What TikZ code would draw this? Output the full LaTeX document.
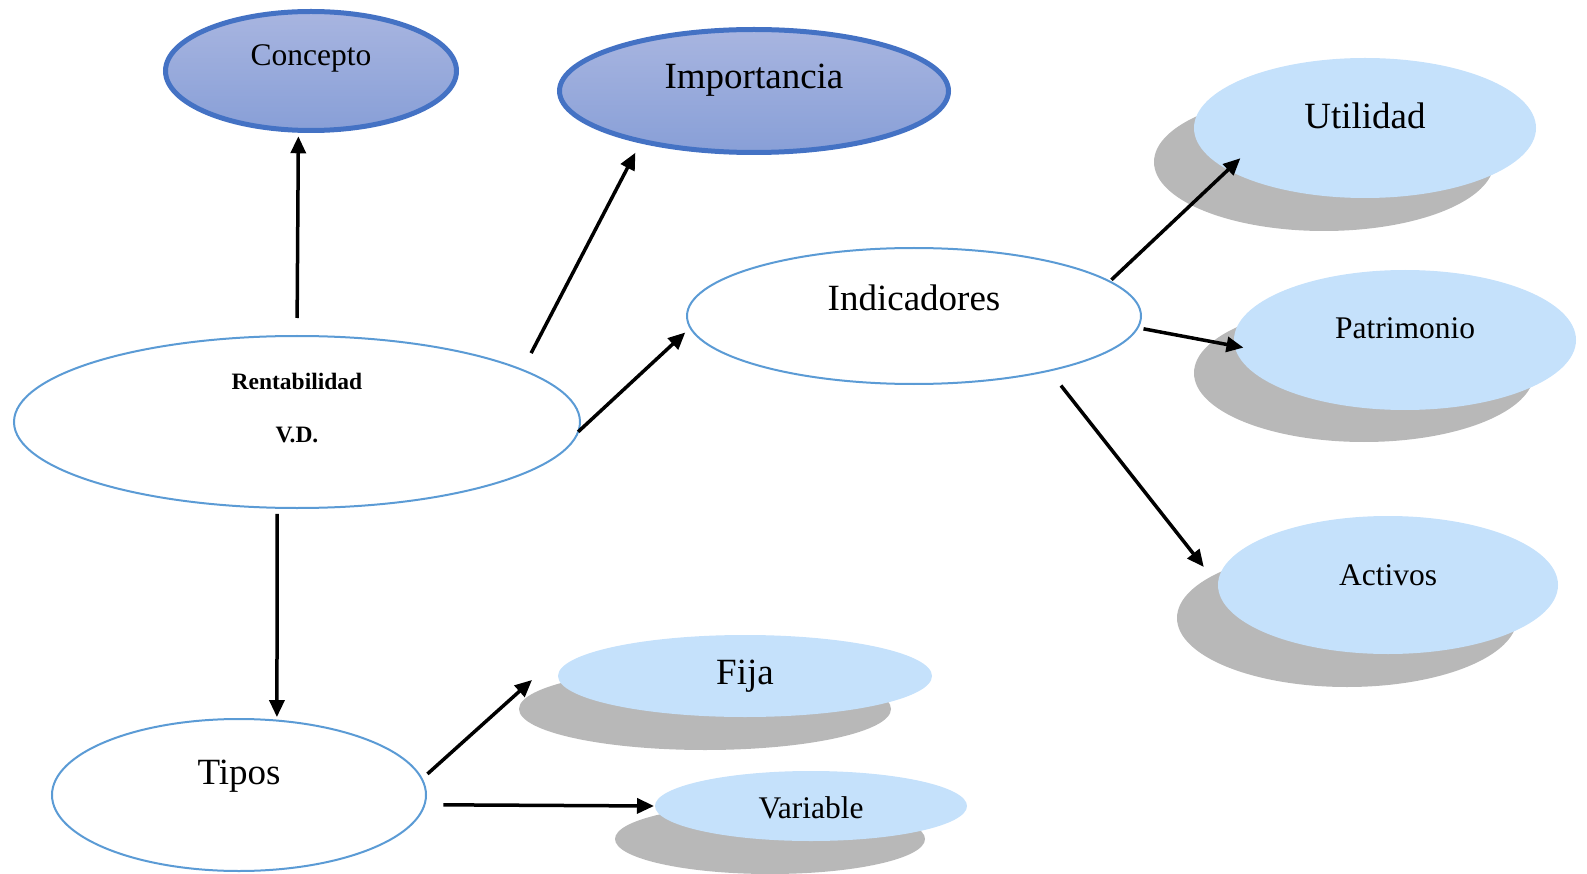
\documentclass[tikz,border=0pt]{standalone}
\usepackage{fontspec}
\setmainfont{Liberation Serif}
\usetikzlibrary{arrows.meta,shapes.geometric}
\definecolor{edgeblue}{RGB}{68,114,196}
\definecolor{lineblue}{RGB}{91,155,213}
\definecolor{gradtop}{RGB}{168,181,224}
\definecolor{gradbot}{RGB}{136,159,215}
\definecolor{paleblue}{RGB}{197,225,251}
\definecolor{shadowgray}{RGB}{184,184,184}
\begin{document}
\begin{tikzpicture}[x=1pt,y=-1pt,
  basic/.style={ellipse, inner sep=0pt, outer sep=0pt},
  darkell/.style={basic, draw=edgeblue, line width=5pt, top color=gradtop, bottom color=gradbot},
  whiteell/.style={basic, draw=lineblue, line width=2pt, fill=white},
  paleell/.style={basic, fill=paleblue},
  shadowell/.style={basic, fill=shadowgray},
  big/.style={anchor=base, font=\fontsize{37}{44}\selectfont},
  mid/.style={anchor=base, font=\fontsize{31.5}{38}\selectfont},
  small/.style={anchor=base, font=\fontsize{23.5}{28}\selectfont\bfseries},
  arr/.style={line width=3.5pt, -{Triangle[length=17pt,width=15pt]}}]
\useasboundingbox (0,0) rectangle (1587,874);

% drop shadows of the pale ellipses
\node[shadowell, minimum width=340pt, minimum height=138pt] (util-s) at (1324,162) {};
\node[shadowell, minimum width=340pt, minimum height=138pt] (patr-s) at (1364,373) {};
\node[shadowell, minimum width=340pt, minimum height=138pt] (acti-s) at (1347,618) {};
\node[shadowell, minimum width=372pt, minimum height=82pt] (fija-s) at (705,709) {};
\node[shadowell, minimum width=310pt, minimum height=70pt] (vari-s) at (770,839) {};

% ellipses
\node[darkell, minimum width=291pt, minimum height=119pt] (conc) at (311,71) {};
\node[darkell, minimum width=389pt, minimum height=123pt] (impo) at (754,91) {};
\node[whiteell, minimum width=454pt, minimum height=136pt] (indi) at (914,316) {};
\node[whiteell, minimum width=566pt, minimum height=172pt] (rent) at (297,422) {};
\node[whiteell, minimum width=374pt, minimum height=152pt] (tipo) at (239,795) {};
\node[paleell, minimum width=342pt, minimum height=140pt] (util) at (1365,128) {};
\node[paleell, minimum width=342pt, minimum height=140pt] (patr) at (1405,340) {};
\node[paleell, minimum width=340pt, minimum height=138pt] (acti) at (1388,585) {};
\node[paleell, minimum width=374pt, minimum height=82pt] (fija) at (745,676) {};
\node[paleell, minimum width=312pt, minimum height=70pt] (vari) at (811,806) {};

% labels
\node[mid] (conc-t) at (311,66) {Concepto};
\node[big] (impo-t) at (754,89) {Importancia};
\node[big] (indi-t) at (914,311) {Indicadores};
\node[small] (rent-t1) at (297,389) {Rentabilidad};
\node[small] (rent-t2) at (297,442) {V.D.};
\node[big] (tipo-t) at (239,784) {Tipos};
\node[big] (util-t) at (1365,129) {Utilidad};
\node[mid] (patr-t) at (1405,339) {Patrimonio};
\node[mid] (acti-t) at (1388,585) {Activos};
\node[big] (fija-t) at (745,684) {Fija};
\node[mid] (vari-t) at (811,818) {Variable};

% connectors
\draw[arr, shorten <=18pt, shorten >=6pt] (rent.north) -- (conc.-102.8);
\draw[arr, shorten <=19pt, shorten >=13pt] (rent.13.3) -- (impo.204.9);
\draw[arr, shorten >=7pt] (rent.-2.4) -- (indi.183.5);
\draw[arr, shorten <=6pt, shorten >=3.5pt] (rent.-103.6) -- (tipo.63.9);
\draw[arr, shorten <=2.5pt, shorten >=-17pt] (indi.10.2) -- (util.197.9);
\draw[arr, shorten <=6pt, shorten >=-9pt] (indi.-3.9) -- (patr.182.5);
\draw[arr, shorten <=19pt, shorten >=23pt] (indi.-22.05) -- (acti.180.3);
\draw[arr, shorten <=7.6pt] (tipo.5.95) -- ([shift={(-26,4)}]fija.west);
\draw[arr, shorten <=19pt, shorten >=1pt] (tipo.-3.4) -- (vari.west);
\end{tikzpicture}
\end{document}
